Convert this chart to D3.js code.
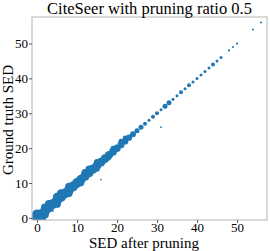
<!DOCTYPE html>
<html lang="en">
<head>
<meta charset="UTF-8">
<title>CiteSeer pruning</title>
<script src="https://cdn.jsdelivr.net/npm/d3@7"></script>
<style>
    body { margin: 0; background: white; }
</style>
</head>
<body>
<script>
    const width = 270;
    const height = 251;
    const margin = {top: 17, right: 3, bottom: 31, left: 32};
    const serif = "Liberation Serif";

    // main diagonal, k = 0..56
    const diagSed = [0,1,2,3,4,5,6,7,8,9,10,11,12,13,14,15,16,17,18,19,20,21,22,23,24,25,26,27,28,29,30,31,32,33,34,35,36,37,38,39,40,41,42,43,44,45,46,48,49,50,54,56];
    const diagCount = [100,100,100,100,100,100,100,100,100,100,100,90,90,90,85,80,80,75,70,64,56,50,45,40,36,25,25,16,9,16,16,9,25,25,9,9,16,9,16,9,9,9,9,9,16,9,9,5,5,5,4,4];

    // off-diagonal points: pruned SED, ground truth SED, count
    const offPruned = [0,1,1,2,3,5,6,8,12,13,15,19,21,22,2,5,8,11,15,18,3,4,2,16,31];
    const offTruth  = [1,0,1,3,4,6,7,9,13,14,16,20,22,23,1,4,7,10,14,17,2,2,0,11,26];
    const offCount  = [100,100,100,64,64,70,70,60,50,50,40,25,25,20,60,60,50,40,30,16,3,3,3,3,3];

    const xTicks = [0,10,20,30,40,50];
    const yTicks = [0,10,20,30,40,50];

    const points = diagSed.map((k, i) => ({x: k, y: k, n: diagCount[i]}))
        .concat(offPruned.map((p, i) => ({x: p, y: offTruth[i], n: offCount[i]})));

    const svg = d3.select("body").append("svg")
        .attr("width", width).attr("height", height);

    const x = d3.scaleLinear().domain([-1.25, 57.5])
        .range([margin.left, width - margin.right]);
    const y = d3.scaleLinear().domain([-0.6, 57.6])
        .range([height - margin.bottom, margin.top]);
    const r = d3.scaleSqrt().domain([0, 100]).range([0, 5]);

    svg.append("clipPath").attr("id", "plot")
        .append("rect")
        .attr("x", margin.left).attr("y", margin.top)
        .attr("width", width - margin.left - margin.right)
        .attr("height", height - margin.top - margin.bottom);

    svg.append("g").attr("clip-path", "url(#plot)")
        .selectAll("circle")
        .data(points)
        .enter()
        .append("circle")
        .attr("cx", d => x(d.x))
        .attr("cy", d => y(d.y))
        .attr("r", d => r(d.n))
        .attr("fill", "#1f77b4");

    // frame
    svg.append("rect")
        .attr("x", margin.left).attr("y", margin.top)
        .attr("width", width - margin.left - margin.right)
        .attr("height", height - margin.top - margin.bottom)
        .attr("fill", "none").attr("stroke", "#b5b5b5").attr("stroke-width", 1);

    const xAxis = svg.append("g")
        .attr("transform", `translate(0,${height - margin.bottom})`)
        .call(d3.axisBottom(x).tickValues(xTicks).tickSize(3).tickPadding(0));
    const yAxis = svg.append("g")
        .attr("transform", `translate(${margin.left},0)`)
        .call(d3.axisLeft(y).tickValues(yTicks).tickSize(3).tickPadding(1));

    [xAxis, yAxis].forEach(a => {
        a.attr("font-family", null).attr("font-size", null);
        a.select(".domain").remove();
        a.selectAll("line").attr("stroke", "#333").attr("stroke-width", 0.8);
        a.selectAll("text")
            .attr("font-family", serif)
            .attr("font-size", 13)
            .attr("fill", "#000");
    });

    svg.append("text")
        .attr("x", (margin.left + width - margin.right) / 2)
        .attr("y", 13.5)
        .attr("text-anchor", "middle")
        .attr("font-family", serif)
        .attr("font-size", 16.5)
        .text("CiteSeer with pruning ratio 0.5");

    svg.append("text")
        .attr("x", 144)
        .attr("y", 247.5)
        .attr("text-anchor", "middle")
        .attr("font-family", serif)
        .attr("font-size", 15)
        .text("SED after pruning");

    svg.append("text")
        .attr("transform", "translate(13,120) rotate(-90)")
        .attr("text-anchor", "middle")
        .attr("font-family", serif)
        .attr("font-size", 15)
        .text("Ground truth SED");
</script>
</body>
</html>
